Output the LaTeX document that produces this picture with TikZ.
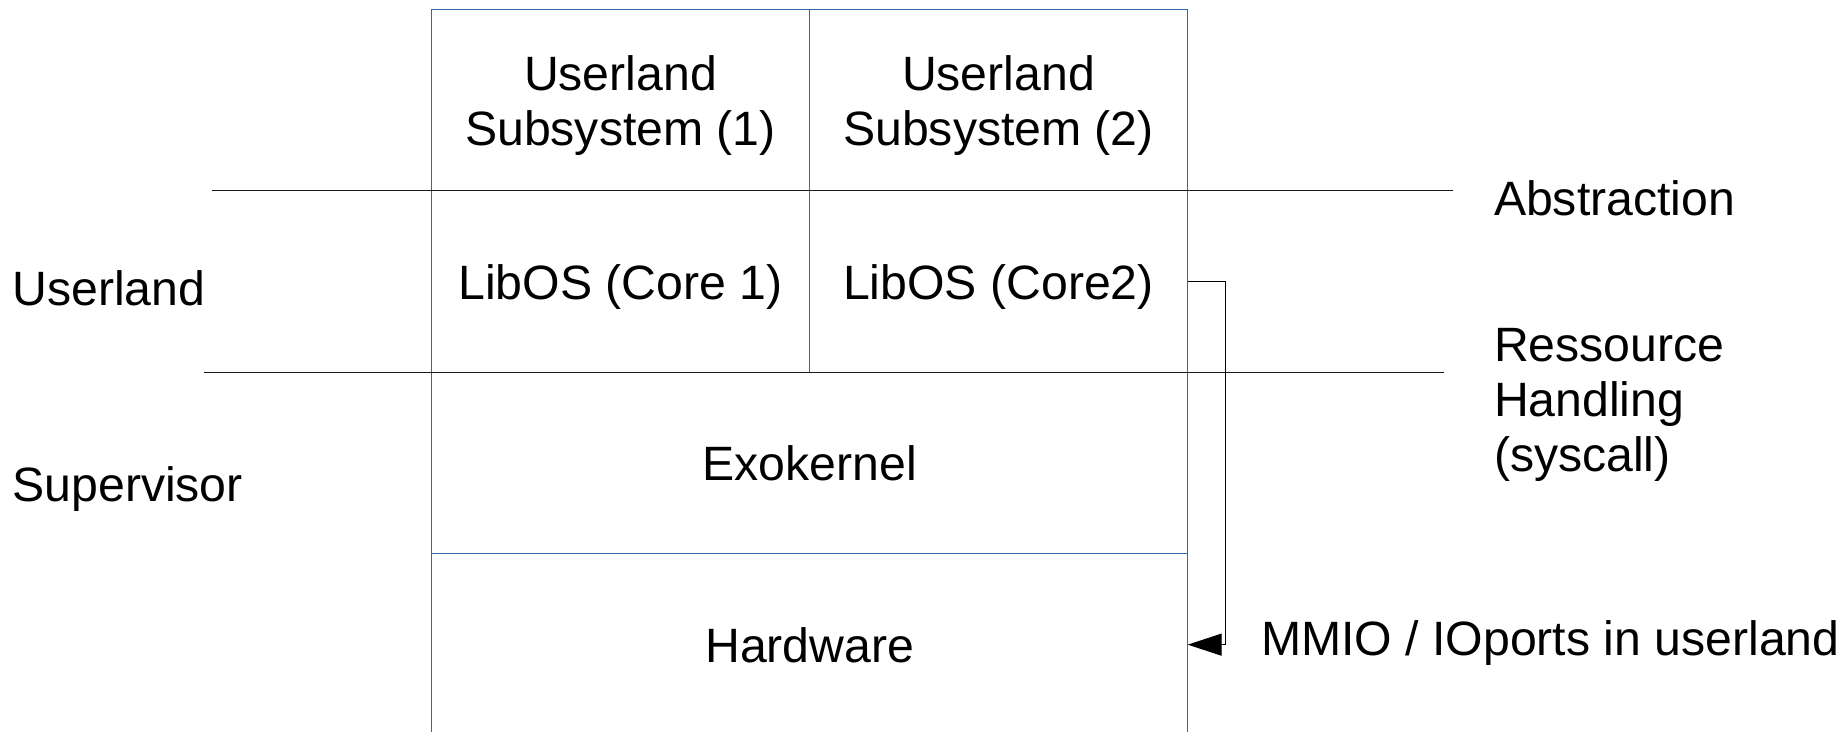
\documentclass[tikz,border=0pt]{standalone}
\usepackage{fontspec}
\setmainfont{Liberation Sans}
\usetikzlibrary{arrows.meta}
\definecolor{cellblue}{HTML}{3465A4}
\begin{document}
\begin{tikzpicture}[x=1pt,y=-1pt,
  every node/.style={font=\fontsize{48.2}{55}\selectfont, inner sep=0pt, outer sep=0pt},
  cell/.style={draw=cellblue, line width=1.3pt, text height=36pt, text depth=0pt},
  twoline/.style={text depth=54.4pt},
  sepline/.style={draw=black!90, line width=1.5pt},
  wire/.style={draw=black, line width=1.2pt},
  lbl/.style={anchor=base west}]
\useasboundingbox (0,0) rectangle (1844,731);
\clip (0,0) rectangle (1844,731);
% cells
\node[cell, twoline, minimum width=377.6pt, minimum height=181.2pt] (u1) at (620.5,99.9)
  {\begin{tabular}[t]{@{}c@{}}Userland\\Subsystem (1)\end{tabular}};
\node[cell, twoline, minimum width=378.4pt, minimum height=181.2pt] (u2) at (998.5,99.9)
  {\begin{tabular}[t]{@{}c@{}}Userland\\Subsystem (2)\end{tabular}};
\node[cell, minimum width=377.6pt, minimum height=182pt] (l1) at (620.5,281.5) {LibOS (Core 1)};
\node[cell, minimum width=378.4pt, minimum height=182pt] (l2) at (998.5,281.5) {LibOS (Core2)};
\node[cell, minimum width=756pt, minimum height=180.8pt] (ex) at (809.7,462.9) {Exokernel};
\node[cell, minimum width=756pt, minimum height=182.7pt] (hw) at (809.7,644.65) {Hardware};
% separator lines
\coordinate (absL) at (212.3,190.5);
\coordinate (absR) at (1452.5,190.5);
\coordinate (resL) at (204.3,372.5);
\coordinate (resR) at (1444,372.5);
\draw[sepline] (absL) -- (absR);
\draw[sepline] (resL) -- (resR);
% side labels
\node[lbl] (userland) at (12.5,305) {Userland};
\node[lbl] (supervisor) at (12.5,501.7) {Supervisor};
\node[lbl] (abstraction) at (1494,215) {Abstraction};
\node[lbl] (ressource) at (1494,361)
  {\begin{tabular}[t]{@{}l@{}}Ressource\\Handling\\(syscall)\end{tabular}};
\node[lbl] (mmio) at (1261,655) {MMIO / IOports in userland};
% connector
\draw[wire, -{Triangle[length=34pt,width=22pt]}] (l2.east) -- ++(38,0) |- (hw.east);
\end{tikzpicture}
\end{document}
